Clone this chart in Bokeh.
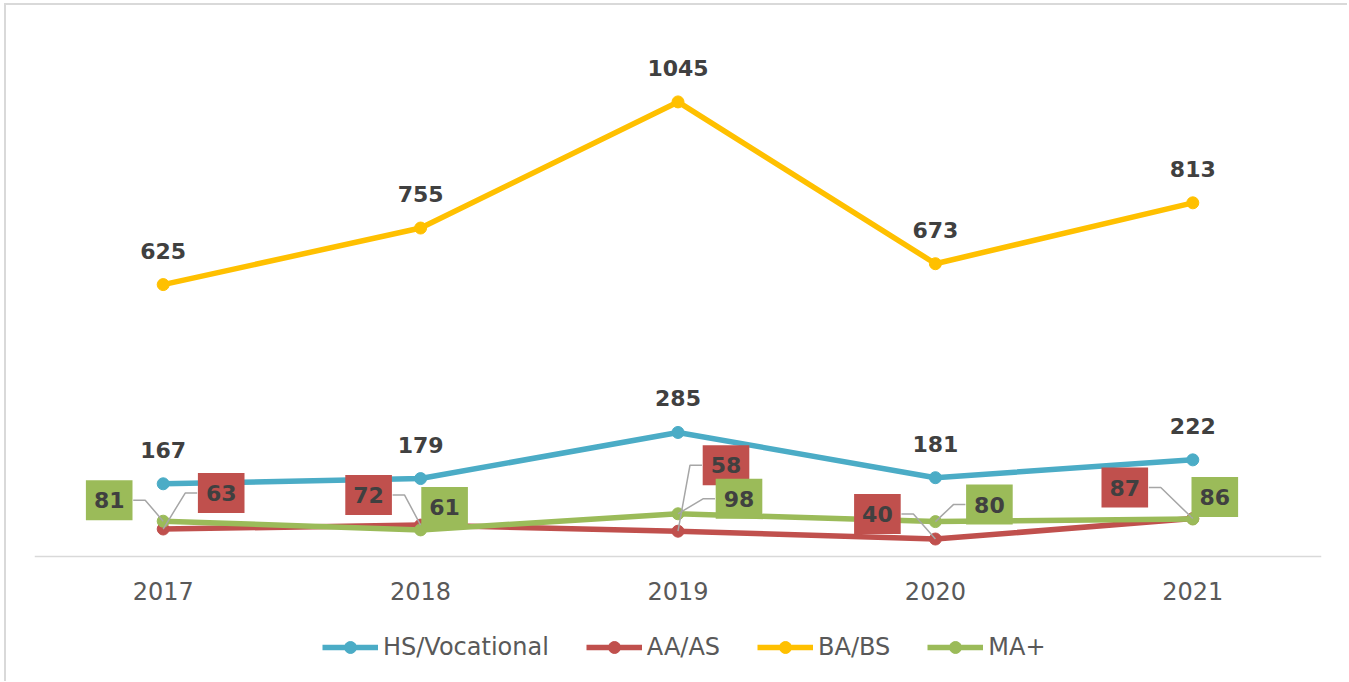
from bokeh.plotting import figure
from bokeh.models import ColumnDataSource, Range1d, FactorRange, Legend, LegendItem
from bokeh.core.properties import value
from bokeh.embed import file_html
from bokeh.resources import INLINE

# ---- data ----
years = ["2017", "2018", "2019", "2020", "2021"]
hs_vocational = [167, 179, 285, 181, 222]
aa_as = [63, 72, 58, 40, 87]
ba_bs = [625, 755, 1045, 673, 813]
ma_plus = [81, 61, 98, 80, 86]
series_names = ["HS/Vocational", "AA/AS", "BA/BS", "MA+"]

# ---- style / layout ----
colors = ["#4BACC6", "#C0504D", "#FFC000", "#9BBB59"]
FRAME_W, FRAME_H = 1287, 635
Y_MAX = 1200
Y_MIN = -260          # room below the axis for tick labels and legend
PX_X = FRAME_W / len(years)
PX_Y = FRAME_H / (Y_MAX - Y_MIN)
FONT = "DejaVu Sans"
LABEL_COLOR = "#404040"

# label box offsets (screen px, relative to point)
aa_dx = [58, -52, 48, -58, -68]
aa_dy = [-36, -30, -66, -25, -31]
aa_leader = [True, True, True, True, True]
ma_dx = [-54, 24, 61, 54, 22]
ma_dy = [-21, -23, -15, -17, -22]
ma_leader = [True, False, True, True, False]
BOX_HALF = 24
ELBOW = 12

p = figure(x_range=FactorRange(*years), y_range=Range1d(Y_MIN, Y_MAX),
           frame_width=FRAME_W, frame_height=FRAME_H,
           output_backend="svg", toolbar_location=None,
           min_border_left=28, min_border_right=26, min_border_top=29,
           min_border_bottom=12)
p.styles = {"margin-left": "4px", "margin-top": "3px",
            "border-left": "2px solid #d9d9d9", "border-top": "2px solid #d9d9d9"}
p.outline_line_color = None
p.grid.visible = False
p.yaxis.visible = False
p.xaxis.fixed_location = 0
p.xaxis.axis_line_color = "#d9d9d9"
p.xaxis.axis_line_width = 1.5
p.xaxis.major_tick_line_color = None
p.xaxis.minor_tick_line_color = None
p.xaxis.major_tick_out = 0
p.xaxis.major_label_text_font = FONT
p.xaxis.major_label_text_font_size = "24px"
p.xaxis.major_label_text_color = "#595959"
p.xaxis.major_label_standoff = 26

all_series = [hs_vocational, aa_as, ba_bs, ma_plus]
items = []
for name, vals, col in zip(series_names, all_series, colors):
    src = ColumnDataSource(dict(x=years, y=vals))
    l = p.line("x", "y", source=src, line_color=col, line_width=5.5)
    s = p.scatter("x", "y", source=src, size=12, fill_color=col, line_color=col)
    items.append(LegendItem(label=name, renderers=[l, s]))

# plain labels above points
for vals in (hs_vocational, ba_bs):
    p.text(x=years, y=vals, text=[str(v) for v in vals], y_offset=-34,
           text_align="center", text_baseline="middle",
           text_font=value(FONT), text_font_style="bold",
           text_font_size="22px", text_color=LABEL_COLOR)

# leader lines + boxed labels
for vals, dxs, dys, leads, col in ((aa_as, aa_dx, aa_dy, aa_leader, colors[1]),
                                    (ma_plus, ma_dx, ma_dy, ma_leader, colors[3])):
    xs, ys = [], []
    for i, (v, dx, dy, ld) in enumerate(zip(vals, dxs, dys, leads)):
        if not ld:
            continue
        edge = dx - BOX_HALF if dx > 0 else dx + BOX_HALF
        elbow = edge - ELBOW if dx > 0 else edge + ELBOW
        pts = [(edge, dy), (elbow, dy), (0, 0)]
        xs.append([i + 0.5 + ox / PX_X for ox, oy in pts])
        ys.append([v - oy / PX_Y for ox, oy in pts])
    p.multi_line(xs, ys, line_color="#a6a6a6", line_width=1.5)
    src = ColumnDataSource(dict(x=years, y=vals, t=[str(v) for v in vals], dx=dxs, dy=dys))
    p.text(x="x", y="y", text="t", x_offset="dx", y_offset="dy", source=src,
           text_align="center", text_baseline="middle",
           text_font=value(FONT), text_font_style="bold",
           text_font_size="22px", text_color=LABEL_COLOR,
           background_fill_color=col, padding=dict(left=8, right=8, top=12, bottom=12))

legend = Legend(items=items, orientation="horizontal", location=(288, 7),
                glyph_width=56, glyph_height=30, label_standoff=5, spacing=37,
                label_text_font=FONT, label_text_font_size="24px",
                label_text_color="#595959", border_line_color=None,
                background_fill_alpha=0, margin=0, padding=0)
p.add_layout(legend)

open("out.html", "w").write(file_html(p, INLINE))
